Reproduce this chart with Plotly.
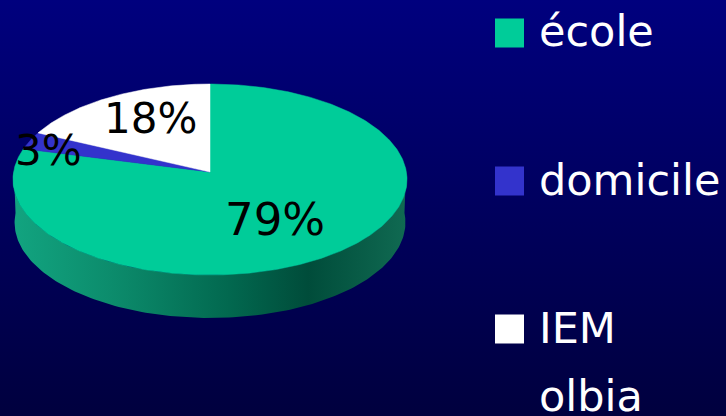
import numpy as np
import plotly.graph_objects as go

categories = ["école", "domicile", "IEM<br>olbia"]
values = [79, 3, 18]
labels = ["79%", "3%", "18%"]
colors = ["#00CC99", "#3333CC", "#FFFFFF"]
wall_stops = [[0.0, "#12A480"], [0.25, "#0C8C6C"], [0.55, "#02684F"], [0.75, "#004C3A"], [1.0, "#106A52"]]
bg_stops = [[0.0, "#00007E"], [1.0, "#00003E"]]

W, H = 726, 416
cx, apex_y = 210, 172
a, b, k = 196.4, 94.9, 0.0785
depth = 43


def proj(theta, r=1.0):
    u, v = r * np.sin(theta), r * np.cos(theta)
    d = 1 + k * v
    return cx + a * u / d, apex_y - b * v / d


fig = go.Figure()

# background
fig.add_trace(go.Scatter(x=[0, W, W, 0, 0], y=[0, 0, H, H, 0], mode="lines", line=dict(width=0),
                         fill="toself", fillgradient=dict(type="vertical", colorscale=bg_stops, start=0, stop=H),
                         hoverinfo="skip", showlegend=False))

# side wall (front half)
t = np.linspace(np.pi / 2 - 0.02, 3 * np.pi / 2 + 0.02, 160)
xt, yt = proj(t)
xb = cx + (xt - cx) * 0.992
yb = yt + depth
wx = np.r_[xt, xb[::-1], xt[0]]
wy = np.r_[yt, yb[::-1], yt[0]]
fig.add_trace(go.Scatter(x=wx, y=wy, mode="lines", line=dict(width=0), fill="toself",
                         fillgradient=dict(type="horizontal", colorscale=wall_stops, start=cx - a, stop=cx + a),
                         hoverinfo="skip", showlegend=False))

# top face: slices clockwise from 12 o'clock
start = 0.0
total = sum(values)
for val, col in zip(values, colors):
    end = start + val / total * 2 * np.pi
    th = np.linspace(start, end, max(int(val * 6), 12))
    x, y = proj(th)
    fig.add_trace(go.Scatter(x=np.r_[cx, x, cx], y=np.r_[apex_y, y, apex_y], mode="lines",
                             line=dict(width=0.5, color=col), fill="toself", fillcolor=col,
                             hoverinfo="skip", showlegend=False))
    start = end

# legend squares
legend_x = [509.5, 509.5, 509.5]
legend_y = [33, 181, 329]
fig.add_trace(go.Scatter(x=legend_x, y=legend_y, mode="markers",
                         marker=dict(symbol="square", size=29, color=colors, line=dict(width=0)),
                         hoverinfo="skip", showlegend=False))

font = "DejaVu Sans"
label_pos = [(275, 219), (48.5, 150), (150, 118)]
label_sizes = [45, 42, 42]
for txt, (px, py), fs in zip(labels, label_pos, label_sizes):
    fig.add_annotation(x=px, y=py, text=txt, showarrow=False, font=dict(family=font, size=fs, color="#000000"),
                       xanchor="center", yanchor="middle")

legend_lines = ["école", "domicile", "IEM", "olbia"]
legend_text_y = [31, 180, 328, 396]
for name, ty in zip(legend_lines, legend_text_y):
    fig.add_annotation(x=537, y=ty, text=name, showarrow=False, align="left",
                       font=dict(family=font, size=43, color="#FFFFFF"),
                       xanchor="left", yanchor="middle")

fig.update_layout(width=W, height=H, margin=dict(l=0, r=0, t=0, b=0), paper_bgcolor="#000060", plot_bgcolor="#000060",
                  showlegend=False,
                  xaxis=dict(range=[0, W], visible=False, fixedrange=True),
                  yaxis=dict(range=[H, 0], visible=False, fixedrange=True))
fig.write_html("out.html", include_plotlyjs=True, config={"displayModeBar": False},
               post_script="document.body.style.margin='0';document.body.style.overflow='hidden';")
